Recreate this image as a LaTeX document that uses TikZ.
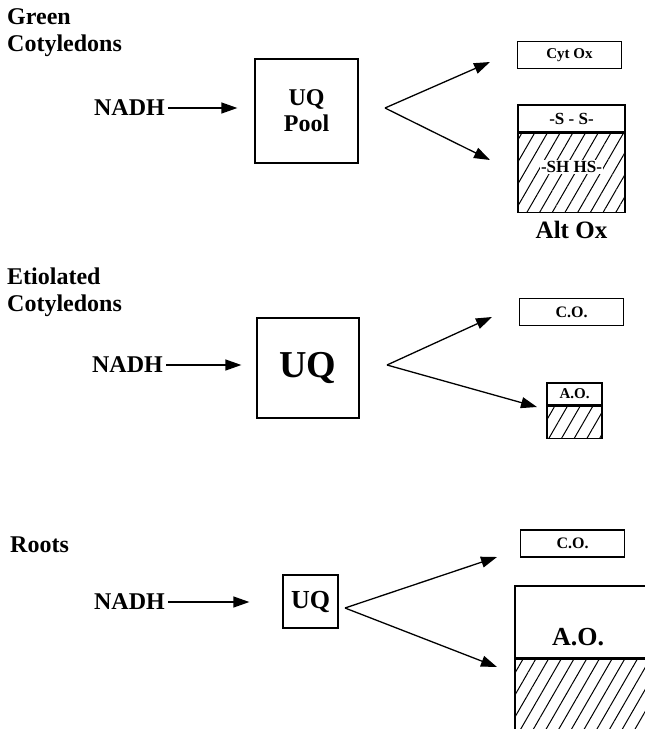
\documentclass[tikz,border=0pt]{standalone}
\usepackage{fontspec}
\setmainfont{Liberation Serif}
\usetikzlibrary{arrows.meta, positioning, patterns.meta}

\begin{document}
\begin{tikzpicture}[
    x=1pt, y=-1pt,
    paneltitle/.style={anchor=west, align=left, inner sep=0pt, font=\bfseries\fontsize{24}{27}\selectfont},
    substrate/.style={anchor=east, inner sep=3pt, font=\bfseries\fontsize{24}{25}\selectfont},
    pool/.style={draw, line width=1.3pt, align=center, font=\bfseries\fontsize{24}{26}\selectfont},
    oxbox/.style={draw, line width=1.3pt, minimum width=104pt, minimum height=27pt, inner sep=1pt, font=\bfseries\fontsize{15}{17}\selectfont},
    hatched/.style={draw, line width=1.3pt, pattern={Lines[angle=60, distance=11pt, line width=1pt]}},
    oxlabel/.style={fill=white, inner sep=1pt, font=\bfseries\fontsize{17}{19}\selectfont},
    arrow/.style={-{Triangle[length=16pt, width=11pt]}, line width=1.3pt}
]
\useasboundingbox (0,0) rectangle (645,729);

% Green cotyledons
\node[paneltitle] (titleA) at (7,33) {Green\\Cotyledons};
\node[substrate] (nadhA) at (168,108) {NADH};
\node[pool, minimum width=103pt, minimum height=104pt] (uqA) at (306.5,111) {UQ\\Pool};
\coordinate (brA) at (385,108);
\coordinate (tipA1) at (490,62);
\coordinate (tipA2) at (490,160);
\node[oxbox] (cytA) at (569.5,55) {Cyt Ox};
\node[oxbox, minimum width=107pt, font=\bfseries\fontsize{17}{19}\selectfont] (ssA) at (571.5,118.5) {-S - S-};
\node[hatched, minimum width=107pt, minimum height=79pt, below=0pt of ssA] (shA) {};
\node[oxlabel] (shtA) at (571.5,167) {-SH HS-};
\node[font=\bfseries\fontsize{25}{27}\selectfont] (altA) at (571.5,230) {Alt Ox};

\draw[arrow, shorten >=17pt] (nadhA.east) -- (nadhA.east -| uqA.west);
\draw[arrow] (brA) -- (tipA1);
\draw[arrow] (brA) -- (tipA2);

% Etiolated cotyledons
\node[paneltitle] (titleB) at (7,292.5) {Etiolated\\Cotyledons};
\node[substrate] (nadhB) at (166,365) {NADH};
\node[pool, minimum width=102pt, minimum height=100pt, font=\bfseries\fontsize{38}{40}\selectfont] (uqB) at (308,368) {UQ};
\coordinate (brB) at (387,365);
\coordinate (tipB1) at (492,317);
\coordinate (tipB2) at (537,407);
\node[oxbox, font=\bfseries\fontsize{16}{18}\selectfont] (coB) at (571.5,312) {C.O.};
\node[oxbox, minimum width=55pt, minimum height=22pt] (aoB) at (574.5,394) {A.O.};
\node[hatched, minimum width=55pt, minimum height=32pt, below=0pt of aoB] (hatB) {};

\draw[arrow, shorten >=15pt] (nadhB.east) -- (nadhB.east -| uqB.west);
\draw[arrow] (brB) -- (tipB1);
\draw[arrow] (brB) -- (tipB2);

% Roots
\node[paneltitle] (titleC) at (10,545) {Roots};
\node[substrate] (nadhC) at (168,602) {NADH};
\node[pool, minimum width=55pt, minimum height=53pt, font=\bfseries\fontsize{26}{28}\selectfont] (uqC) at (310.5,601.5) {UQ};
\coordinate (brC) at (345,608);
\coordinate (tipC1) at (497,557);
\coordinate (tipC2) at (497,667);
\node[oxbox, font=\bfseries\fontsize{16}{18}\selectfont] (coC) at (572.5,543.5) {C.O.};
\node[draw, line width=1.3pt, minimum width=145pt, minimum height=72pt] (aoC) at (587.5,622) {};
\node[hatched, minimum width=145pt, minimum height=90pt, below=0pt of aoC] (hatC) {};
\node[font=\bfseries\fontsize{26}{28}\selectfont] (aotC) at (578,637) {A.O.};

\draw[arrow, shorten >=33pt] (nadhC.east) -- (nadhC.east -| uqC.west);
\draw[arrow] (brC) -- (tipC1);
\draw[arrow] (brC) -- (tipC2);
\end{tikzpicture}
\end{document}
